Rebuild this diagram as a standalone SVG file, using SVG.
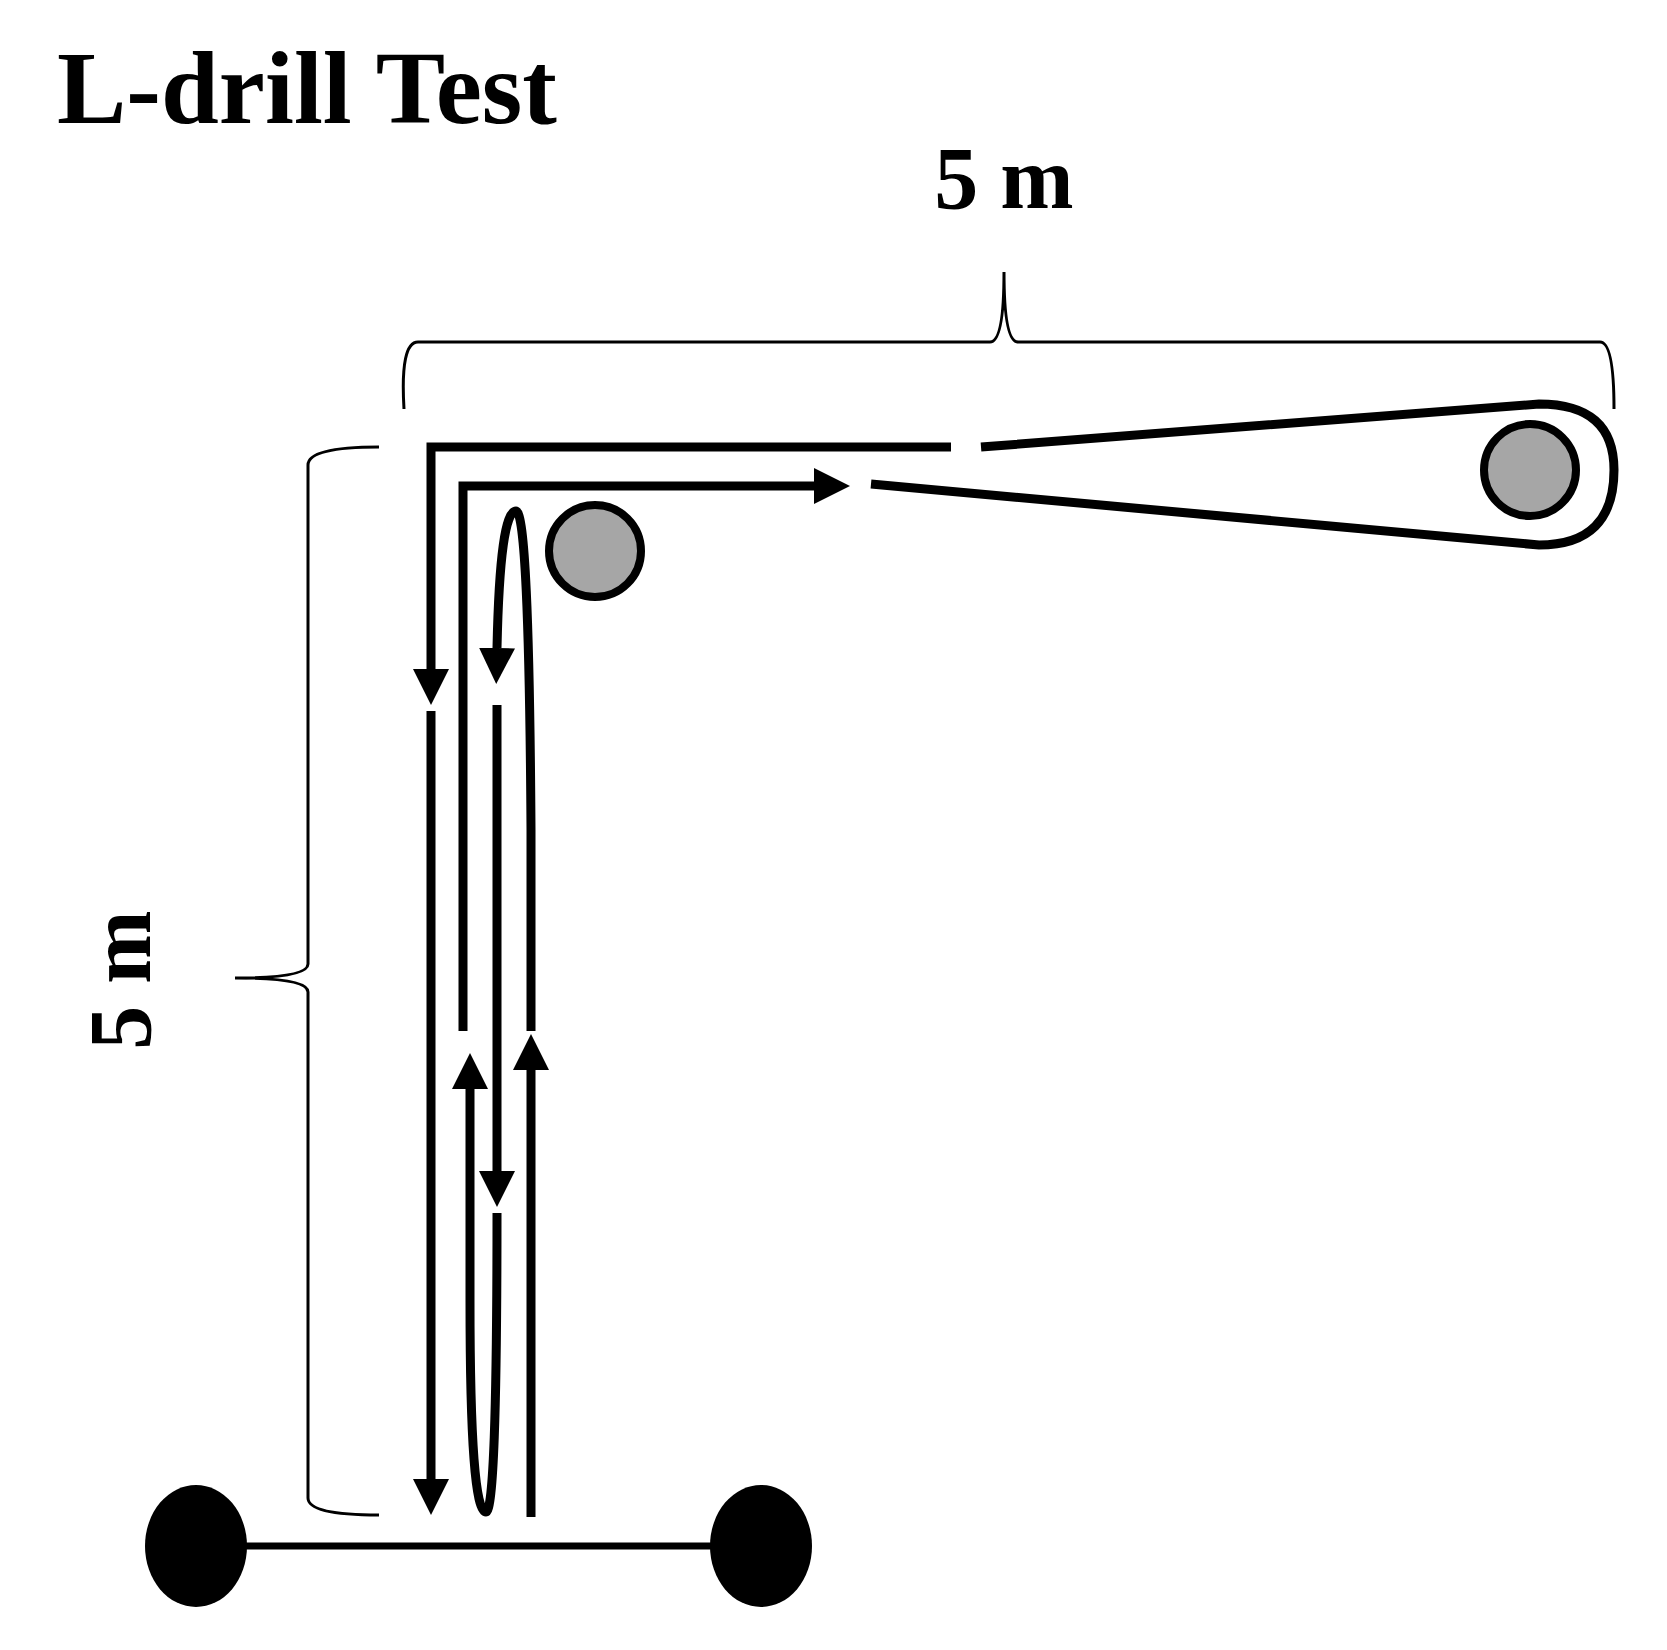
<svg xmlns="http://www.w3.org/2000/svg" width="1667" height="1650" viewBox="0 0 1667 1650">
<style>
.t{font-family:"Liberation Serif",serif;font-weight:bold;fill:#000}
.p{fill:none;stroke:#000;stroke-width:9}
.b{fill:none;stroke:#000;stroke-width:3}
.c{fill:#a6a6a6;stroke:#000;stroke-width:8}
</style>
<defs>
<marker id="ah" viewBox="0 0 10 10" refX="0" refY="5" markerWidth="4" markerHeight="4" orient="auto" markerUnits="strokeWidth"><path d="M0,0 L10,5 L0,10 z" fill="#000"/></marker>
</defs>
<rect width="1667" height="1650" fill="#fff"/>
<text class="t" x="57" y="123" font-size="104">L-drill Test</text>
<text class="t" x="1004" y="208" font-size="88" text-anchor="middle">5 m</text>
<text class="t" font-size="88" text-anchor="middle" transform="translate(150,980) rotate(-90)">5 m</text>
<g id="braces">
<path class="b" d="M404,409 Q400,342 418,342 L990,342 Q1004,342 1004,272 Q1004,342 1018,342 L1600,342 Q1614,342 1614,409"/>
<path class="b" d="M379,447 Q308,447 308,465 L308,964 Q308,978 235,978 Q308,978 308,992 L308,1498 Q308,1515 379,1515"/>
</g>
<g id="nodes">
<circle id="cone1" class="c" cx="595" cy="551" r="46"/>
<circle id="cone2" class="c" cx="1530" cy="470" r="46"/>
<ellipse id="start1" cx="196" cy="1546" rx="51" ry="61" fill="#000"/>
<ellipse id="start2" cx="761" cy="1546" rx="51" ry="61" fill="#000"/>
</g>
<g id="connectors">
<line x1="230" y1="1546" x2="720" y2="1546" stroke="#000" stroke-width="7"/>
<path class="p" d="M951,447 L431,447 L431,669" marker-end="url(#ah)"/>
<path class="p" d="M431,711 L431,1479" marker-end="url(#ah)"/>
<path class="p" d="M463,1031 L463,486 L814,486" marker-end="url(#ah)"/>
<path class="p" d="M981,447 L1539,404 Q1614,404 1614,470 Q1614,545 1539,545 L871,484"/>
<path class="p" d="M531,1031 L531,830 Q529,511 516,511 Q500,511 497,648" marker-end="url(#ah)"/>
<path class="p" d="M497,705 L497,1171" marker-end="url(#ah)"/>
<path class="p" d="M497,1213 Q497,1512 486,1512 Q470,1512 470,1300 L470,1089" marker-end="url(#ah)"/>
<path class="p" d="M531,1517 L531,1070" marker-end="url(#ah)"/>
</g>
</svg>
